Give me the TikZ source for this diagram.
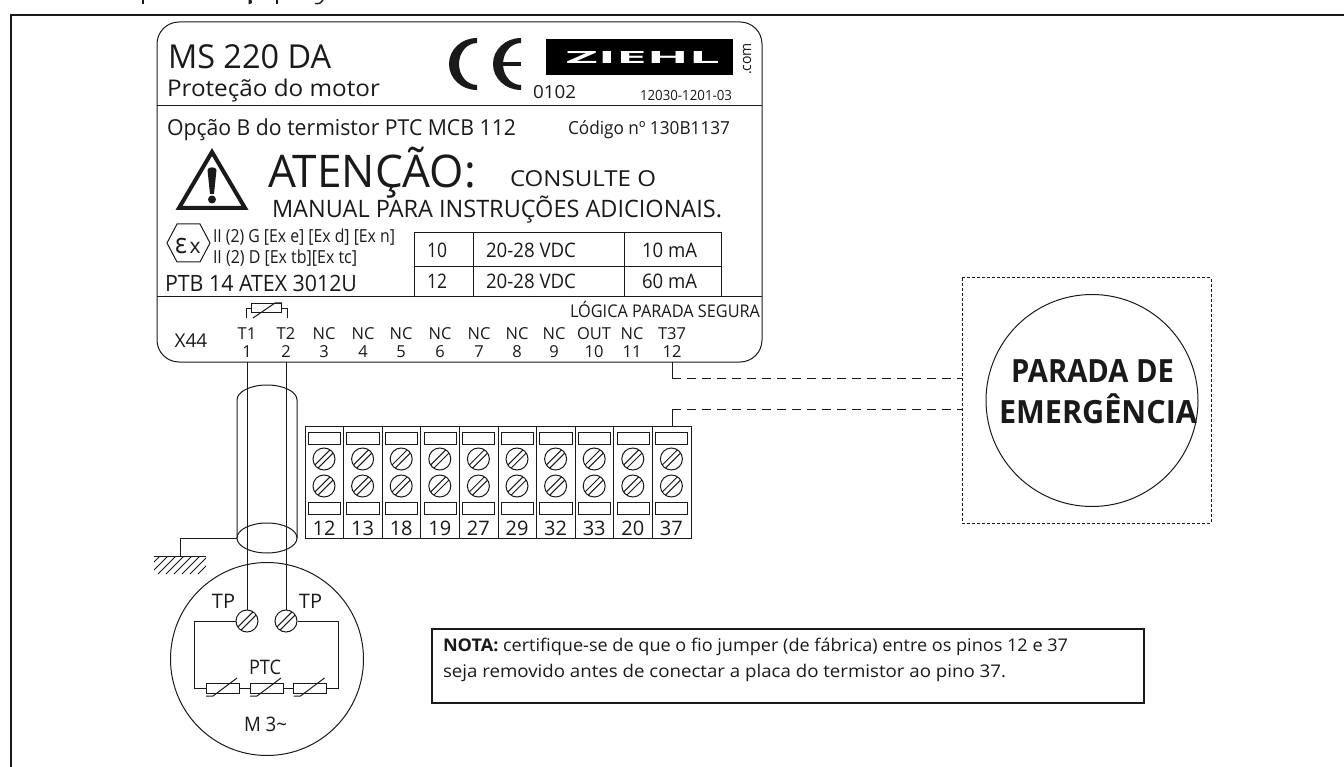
\documentclass[tikz,border=0pt]{standalone}
\usepackage{graphicx}
\usepackage{fontspec}
\setmainfont{Open Sans}
\newfontfamily\grk{Open Sans}
\usetikzlibrary{calc,shapes.geometric}
\definecolor{ink}{HTML}{1A1A1A}
\tikzset{
  txt/.style={inner sep=0pt,outer sep=0pt,anchor=base west,text=ink},
  ctr/.style={inner sep=0pt,outer sep=0pt,anchor=base,text=ink},
  thin line/.style={draw=ink,line width=1pt},
  med line/.style={draw=ink,line width=1.3pt},
  dash link/.style={draw=ink,line width=1pt,dash pattern=on 9pt off 6pt},
  dash box/.style={draw=ink,line width=1pt,dash pattern=on 3pt off 2pt},
  screw node/.style={circle,draw=ink,line width=1pt,minimum size=22pt,inner sep=0pt,fill=white}
}
\newcommand{\tx}[6]{\node[txt] (#1) at (#2,#3) {\resizebox{#5pt}{\height}{\fontsize{#4pt}{#4pt}\selectfont #6}};}
\newcommand{\cx}[5]{\node[ctr] (#1) at (#2,#3) {\fontsize{#4pt}{#4pt}\selectfont #5};}
\newcommand{\screwat}[3]{%
  \node[screw node] (#1) at (#2,#3) {};
  \begin{scope}[shift={(#2,#3)}]
    \draw[thin line] (-9.2,6) -- (6,-9.2);
    \draw[thin line] (-6,9.2) -- (9.2,-6);
  \end{scope}}
\newcommand{\ptcat}[1]{%
  \begin{scope}[shift={(#1,0)}]
    \draw[thin line,fill=white] (206,683) rectangle (239,693);
    \draw[thin line] (206,696) -- (213,696) -- (237,678);
  \end{scope}}
\begin{document}
\begin{tikzpicture}[x=1pt,y=-1pt]
\useasboundingbox (0,0) rectangle (1344,767);
% clipped heading remains
\fill[ink] (142,0) rectangle (144.2,4.5);
\fill[ink] (248.5,0) -- (251.5,0) -- (252,3) -- (248.5,4.5) -- cycle;
\fill[ink] (276,0) rectangle (278.2,4.5);
\draw[ink,line width=1.4pt] (323,0) .. controls (322,3) and (319,4) .. (315,3.5);
% outer frame
\draw[med line,line width=1.6pt] (11,767) -- (11,15) -- (1344,15);
% label
\draw[thin line,rounded corners=22pt] (157,22) rectangle (762,362);
\coordinate (labelL1) at (157,106); \coordinate (labelR1) at (762,106);
\coordinate (labelL2) at (157,297); \coordinate (labelR2) at (762,297);
\draw[thin line] (labelL1) -- (labelR1);
\draw[thin line] (labelL2) -- (labelR2);
\tx{ms}{168}{69}{33}{163}{MS 220 DA}
\tx{prot}{167}{97}{23}{213}{Proteção do motor}
% CE
\foreach \dx in {0,44}{
  \fill[ink,shift={(\dx,0)}] (477,38) .. controls (461.5,38) and (449,49.6) .. (449,64)
    .. controls (449,78.4) and (461.5,90) .. (477,90) -- (477,85)
    .. controls (467,85) and (459,75.6) .. (459,64)
    .. controls (459,52.4) and (467,43) .. (477,43) -- cycle;
}
\fill[ink] (503,62) rectangle (521,66);
\tx{n0102}{533}{99}{18}{43}{0102}
\node[fill=black,minimum width=187pt,minimum height=36pt,inner sep=0pt] (logo) at (639.5,57) {};
\node[inner sep=0pt,text=white] (ziehl) at (643,58) {\resizebox{154pt}{12pt}{\bfseries ZIEHL}};
\node[txt,rotate=90] (dotcom) at (751,75) {\resizebox{32pt}{\height}{\fontsize{15pt}{15pt}\selectfont .com}};
\tx{code1}{640}{101}{14}{92}{12030-1201-03}
\tx{opc}{167}{136}{22}{349}{Opção B do termistor PTC MCB 112}
\tx{cod}{568}{135}{18}{162}{Código nº 130B1137}
% warning
\draw[ink,line width=4pt,miter limit=10] (212,152) -- (245,208) -- (179,208) -- cycle;
\fill[ink] (207.5,170) .. controls (207.5,166.5) and (216.5,166.5) .. (216.5,170) -- (214,194) -- (210,194) -- cycle;
\fill[ink] (212,199.5) circle[radius=4pt];
\tx{aten}{268}{188}{45}{208}{ATENÇÃO:}
\tx{cons}{510}{187}{22}{146}{CONSULTE O}
\tx{manual}{272}{218}{24}{450}{MANUAL PARA INSTRUÇÕES ADICIONAIS.}
% Ex
\draw[thin line] (167,243) -- (177,224) -- (200,224) -- (210,243) -- (200,262) -- (177,262) -- cycle;
\tx{eps}{175}{254}{28}{12}{{\grk ε}}
\tx{chi}{189.5}{254}{21}{11}{x}
\tx{iig}{213}{243}{18}{182}{II (2) G [Ex e] [Ex d] [Ex n]}
\tx{iid}{213}{264}{18}{144}{II (2) D [Ex tb][Ex tc]}
\tx{ptb}{165}{292}{22.5}{192}{PTB 14 ATEX 3012U}
% table
\draw[thin line] (414,297) -- (414,233) -- (721,233) -- (721,297);
\draw[thin line] (414,267) -- (721,267);
\draw[thin line] (473,233) -- (473,297);
\draw[thin line] (624,233) -- (624,297);
\tx{t10}{427}{258}{20}{20}{10}
\tx{t12}{427}{289}{20}{20}{12}
\tx{v1}{486}{258}{20}{90}{20-28 VDC}
\tx{v2}{486}{289}{20}{90}{20-28 VDC}
\tx{m1}{642}{258}{20}{55}{10 mA}
\tx{m2}{642}{289}{20}{55}{60 mA}
\tx{log}{570}{317}{17.5}{190}{LÓGICA PARADA SEGURA}
% pins
\cx{x44}{191}{348}{19}{X44}
\foreach \n/\t/\nn/\xx in {p1/T1/1/247,p2/T2/2/286,p3/NC/3/324,p4/NC/4/363,p5/NC/5/401,p6/NC/6/440,p7/NC/7/479,p8/NC/8/517,p9/NC/9/554,p10/OUT/10/594,p11/NC/11/632,p12/T37/12/672}{
  \cx{\n a}{\xx}{339}{16.5}{\t}
  \cx{\n b}{\xx}{357}{16.5}{\nn}
}
% thermistor symbol
\draw[thin line] (251,304) rectangle (281,313);
\draw[thin line] (251,308.5) -- (246,308.5) -- (246,318);
\draw[thin line] (281,308.5) -- (287,308.5) -- (287,318);
\draw[thin line] (253,318) -- (275,303) -- (282,303);
% terminal block
\draw[thin line] (305,426) rectangle (691,538);
\foreach \i/\lab in {0/12,1/13,2/18,3/19,4/27,5/29,6/32,7/33,8/20,9/37}{
  \pgfmathsetmacro{\xa}{305+38.6*\i}
  \pgfmathsetmacro{\xc}{\xa+19}
  \pgfmathsetmacro{\xl}{\xa+3.3}
  \pgfmathsetmacro{\xr}{\xa+35.5}
  \ifnum\i>0 \draw[thin line] (\xa,426) -- (\xa,538); \fi
  \draw[thin line] (\xl,432) rectangle (\xr,444);
  \draw[thin line] (\xl,502) rectangle (\xr,514);
  \screwat{ta\i}{\xc}{459}
  \screwat{tb\i}{\xc}{486}
  \cx{tn\i}{\xc}{535}{20}{\lab}
}
\coordinate (blocktop) at (672,426);
\coordinate (labelbot) at (672,362);
\coordinate (esA) at (962,378);
\coordinate (esB) at (962,409);
\draw[thin line] (labelbot) -- (672,378);
\draw[dash link] (672,378) -- (esA);
\draw[thin line] (blocktop) -- (672,409);
\draw[dash link] (672,409) -- (esB);
% emergency stop
\draw[dash box] (962,278) rectangle (1211,523);
\node[circle,draw=ink,line width=1pt,minimum size=212pt,inner sep=0pt] (estop) at (1092,400.5) {};
\tx{par}{1011}{382}{32}{163}{\bfseries PARADA DE}
\tx{eme}{999}{423}{32}{198}{\bfseries EMERGÊNCIA}
% motor
\node[circle,draw=ink,line width=1pt,minimum size=193pt,inner sep=0pt] (motor) at (267,659) {};
% cable
\coordinate (pin1) at (247,362);
\coordinate (pin2) at (286,362);
\draw[thin line] (237,538) -- (237,400) .. controls (237,391.7) and (250.4,385) .. (267,385)
  .. controls (283.6,385) and (297,391.7) .. (297,400) -- (297,538);
\node[ellipse,draw=ink,line width=1pt,minimum width=60pt,minimum height=30pt,inner sep=0pt] (cabbot) at (267,538) {};
\screwat{s1}{247}{621}
\screwat{s2}{286}{621}
\draw[thin line] (pin1) -- (s1.north);
\draw[thin line] (pin2) -- (s2.north);
% ground
\coordinate (gnd) at (180,556);
\draw[thin line] (cabbot.west) -- (180,538) -- (gnd);
\draw[thin line] (154,556) -- (206,556);
\begin{scope}
  \clip (154,556) rectangle (206,574);
  \foreach \xx in {142,150,...,206}{ \draw[thin line] (\xx,574) -- (\xx+18,556); }
\end{scope}
% motor wiring
\cx{tpl}{223.5}{608}{20}{TP}
\cx{tpr}{310.5}{608}{20}{TP}
\draw[thin line] (s1.west) -- (194,621) -- (194,688) -- (206,688);
\draw[thin line] (s2.east) -- (338,621) -- (338,688) -- (327,688);
\draw[thin line] (239,688) -- (250,688);
\draw[thin line] (283,688) -- (293,688);
\ptcat{0}\ptcat{44}\ptcat{87.5}
\tx{ptc}{249}{674}{20}{32}{PTC}
\tx{m3}{244}{731}{20}{43}{M 3\textasciitilde}
% note
\node[draw=ink,line width=1.5pt,minimum width=712pt,minimum height=74pt,inner sep=0pt] (note) at (788,666) {};
\tx{n1}{443}{651}{17.5}{625}{\textbf{NOTA:} certifique-se de que o fio jumper (de fábrica) entre os pinos 12 e 37}
\tx{n2}{443}{677}{17.5}{563}{seja removido antes de conectar a placa do termistor ao pino 37.}
\end{tikzpicture}
\end{document}
